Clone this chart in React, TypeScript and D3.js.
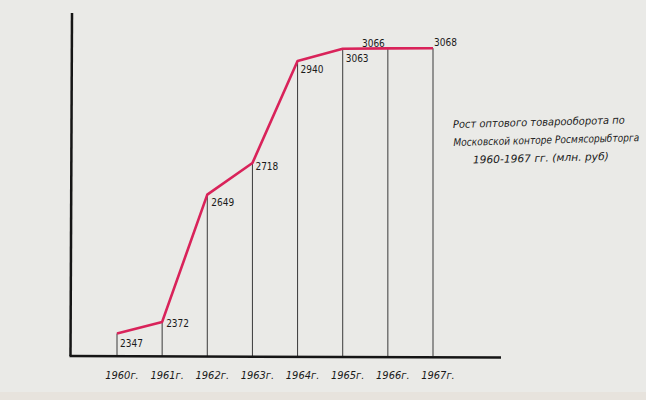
import React from "react";
import * as d3 from "d3";

const years = [1960, 1961, 1962, 1963, 1964, 1965, 1966, 1967];
const values = [2347, 2372, 2649, 2718, 2940, 3063, 3066, 3068];
const yearLabels = ["1960г.", "1961г.", "1962г.", "1963г.", "1964г.", "1965г.", "1966г.", "1967г."];
const titleLines = [
  "Рост оптового товарооборота по",
  "Московской конторе Росмясорыбторга",
  "1960-1967 гг.     (млн. руб)",
];

const W = 646;
const H = 400;

export default function App() {
  const x = d3.scaleLinear().domain([1960, 1967]).range([117, 433]);
  // hand-drawn chart: scale compresses above 2940
  const y = d3.scaleLinear().domain([2300, 2940, 3100]).range([355, 61, 45]);
  const baseY = 356;

  const line = d3
    .line<number>()
    .x((_, i) => x(years[i]))
    .y((d) => y(d));

  const font = "'DejaVu Sans Condensed', 'DejaVu Sans', sans-serif";
  const labelOffsets: [number, number][] = [
    [3, 11], [4, 2], [4, 8], [3, 4], [3, 9], [3, 10], [-3, -4], [1, -5],
  ];
  const titleX = [0, 0, 19];
  const titleLen = [172, 186, 136];

  return (
    <svg
      width={W}
      height={H}
      style={{ position: "fixed", left: 0, top: 0, display: "block" }}
    >
      <rect x={0} y={0} width={W} height={H} fill="#eaeae7" />
      <rect x={0} y={392} width={W} height={8} fill="#e7e3dd" />
      {values.map((v, i) => (
        <line
          key={"v" + i}
          x1={x(years[i])}
          x2={x(years[i])}
          y1={y(v)}
          y2={baseY}
          stroke="#3a3a3a"
          strokeWidth={1}
        />
      ))}
      <line x1={72} y1={13} x2={70.5} y2={356} stroke="#151515" strokeWidth={2.5} />
      <line x1={69.5} y1={356} x2={501} y2={357.5} stroke="#151515" strokeWidth={2.5} />
      <path
        d={line(values) || ""}
        fill="none"
        stroke="#d9235a"
        strokeWidth={2.6}
        strokeLinejoin="round"
      />
      {values.map((v, i) => (
        <text
          key={"t" + i}
          x={x(years[i]) + labelOffsets[i][0]}
          y={y(v) + labelOffsets[i][1]}
          fontFamily={font}
          fontSize={10}
          fill="#1a1a1a"
          dominantBaseline="middle"
          textAnchor={i === 6 ? "end" : "start"}
        >
          {v}
        </text>
      ))}
      {years.map((yr, i) => (
        <text
          key={"y" + i}
          x={x(yr) + 5}
          y={379}
          fontFamily={font}
          fontStyle="italic"
          fontSize={11}
          fill="#1a1a1a"
          textAnchor="middle"
        >
          {yearLabels[i]}
        </text>
      ))}
      <g transform="translate(453,128) rotate(-1.5)">
        {titleLines.map((t, i) => (
          <text
            key={"h" + i}
            x={titleX[i]}
            y={i * 18}
            fontFamily={font}
            fontStyle="italic"
            fontSize={10.5}
            textLength={titleLen[i]}
            lengthAdjust="spacingAndGlyphs"
            fill="#1a1a1a"
          >
            {t}
          </text>
        ))}
      </g>
    </svg>
  );
}
